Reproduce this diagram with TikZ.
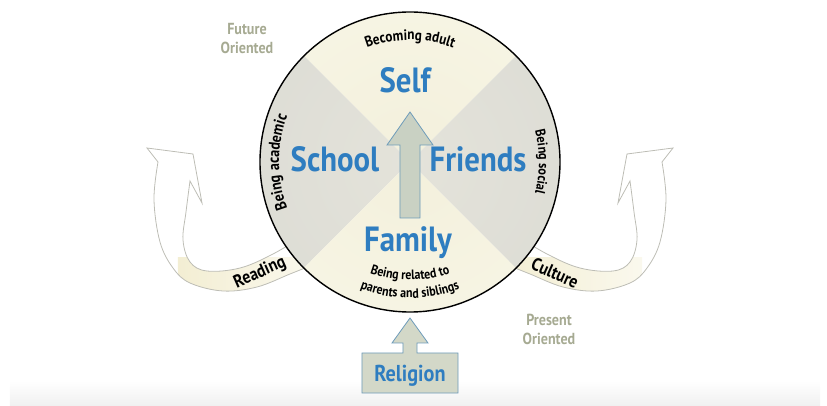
\documentclass[tikz,border=0pt]{standalone}
\usepackage{fontspec}
\setmainfont{PT Sans}[FakeStretch=0.88]
\usetikzlibrary{decorations.text}

\definecolor{wortblau}{HTML}{2E7DC0}
\definecolor{pfeilrand}{HTML}{6E9CBA}
\definecolor{pfeilfuell}{HTML}{C9D1C3}
\definecolor{kastenfuell}{HTML}{D3D8C8}
\definecolor{bogenrand}{HTML}{BDBDB5}
\definecolor{bandgelb}{HTML}{F3EED3}
\definecolor{zeitfarbe}{HTML}{A6AA92}
\definecolor{cremeinnen}{HTML}{F3F0DC}
\definecolor{cremeaussen}{HTML}{FAF8EA}
\definecolor{grauinnen}{HTML}{E4E3DA}
\definecolor{grauaussen}{HTML}{D8D8D2}

\pgfdeclareradialshading{gelbverlauf}{\pgfpointorigin}{color(0bp)=(cremeinnen); color(50bp)=(cremeaussen)}
\pgfdeclareradialshading{grauverlauf}{\pgfpointorigin}{color(0bp)=(grauinnen); color(50bp)=(grauaussen)}

\newcommand{\bogenfont}[1]{\fontsize{#1}{#1}\selectfont\bfseries}
\newcommand{\bogen}{plot[smooth, tension=0.6] coordinates {(-100,-104) (-120,-112) (-153,-125) (-187,-129) (-220,-121) (-237,-106) (-250,-80) (-256,-38) (-252,0)} -- (-263,14) -- (-217,8) -- (-208,-41) -- plot[smooth, tension=0.6] coordinates {(-220,-19) (-224,-50) (-227,-78) (-220,-100) (-203,-109) (-170,-106) (-137,-92) (-100,-70)} -- cycle}

\tikzset{
  hauptwort/.style={text=wortblau, anchor=base, font=\fontsize{35}{35}\selectfont\bfseries},
  zeitwort/.style={text=zeitfarbe, align=center, font=\fontsize{16}{19}\selectfont\bfseries},
  bandwort/.style={font=\fontsize{18}{18}\selectfont\bfseries},
  blockpfeil/.style={color=pfeilrand, line width=0.8pt, line join=miter}
}

\begin{document}
\begin{tikzpicture}[x=1pt,y=1pt]
\useasboundingbox (-410,-244) rectangle (417,162);

%Streifen unten
\shade[top color=white, bottom color=black!6] (-400,-219) rectangle (410,-244);

%Seitliche Pfeile
\foreach \s in {1,-1}
{
	\begin{scope}[xscale=\s]
		\begin{scope}
			\clip \bogen;
			\shade[left color=bandgelb, right color=bandgelb!40!white] (-232,-140) rectangle (-95,-96);
		\end{scope}
		\draw[color=bogenrand, line width=0.8pt] \bogen;
	\end{scope}
}

%Sektoren
\foreach \w/\verlauf in {45/gelbverlauf,135/grauverlauf,225/gelbverlauf,315/grauverlauf}
{
	\begin{scope}
		\clip (0,0) -- (\w:160) arc[start angle=\w, delta angle=90, radius=160] -- cycle;
		\shade[shading=\verlauf] (0,0) circle (150);
	\end{scope}
}
\draw[line width=1.4pt] (0,0) circle (150);

%Pfeil in der Mitte
\draw[blockpfeil, fill=pfeilfuell] (-10,-56) -- (10,-56) -- (10,17) -- (23,17) -- (0,50) -- (-23,17) -- (-10,17) -- cycle;

%Woerter
\node[hauptwort] (self) at (-5,69) {Self};
\node[hauptwort] (school) at (-75,-10) {School};
\node[hauptwort] (friends) at (68,-10) {Friends};
\node[hauptwort] (family) at (-2,-90) {Family};

%Text am Rand
\path[decorate, decoration={text along path, text align=center, text={|\bogenfont{15}|Becoming adult}}]
	(130:122) arc[start angle=130, end angle=50, radius=122];
\path[decorate, decoration={text along path, text align=center, text={|\bogenfont{16}|Being academic}}]
	(225:131) arc[start angle=225, end angle=135, radius=131];
\path[decorate, decoration={text along path, text align=center, text={|\bogenfont{14}|Being social}}]
	(40:129) arc[start angle=40, end angle=-40, radius=129];
\path[decorate, decoration={text along path, text align=center, text={|\bogenfont{13.5}|Being related to}}]
	(235:118) arc[start angle=235, end angle=305, radius=118];
\path[decorate, decoration={text along path, text align=center, text={|\bogenfont{13.5}|parents and siblings}}]
	(232:136) arc[start angle=232, end angle=308, radius=136];

%Religion
\draw[blockpfeil, fill=kastenfuell] (-48,-231) -- (48,-231) -- (48,-191) -- (7,-191) -- (7,-181) -- (18,-181) -- (0,-156) -- (-18,-181) -- (-7,-181) -- (-7,-191) -- (-48,-191) -- cycle;
\node[text=wortblau, anchor=base, font=\fontsize{23}{23}\selectfont\bfseries] (religion) at (0,-219) {Religion};

%Beschriftung der Pfeile
\node[bandwort, rotate=24] (reading) at (-150,-111) {Reading};
\node[bandwort, rotate=-24] (culture) at (145,-111) {Culture};
\node[zeitwort] (future) at (-163,123) {Future\\Oriented};
\node[zeitwort] (present) at (139,-167) {Present\\Oriented};

\end{tikzpicture}
\end{document}
